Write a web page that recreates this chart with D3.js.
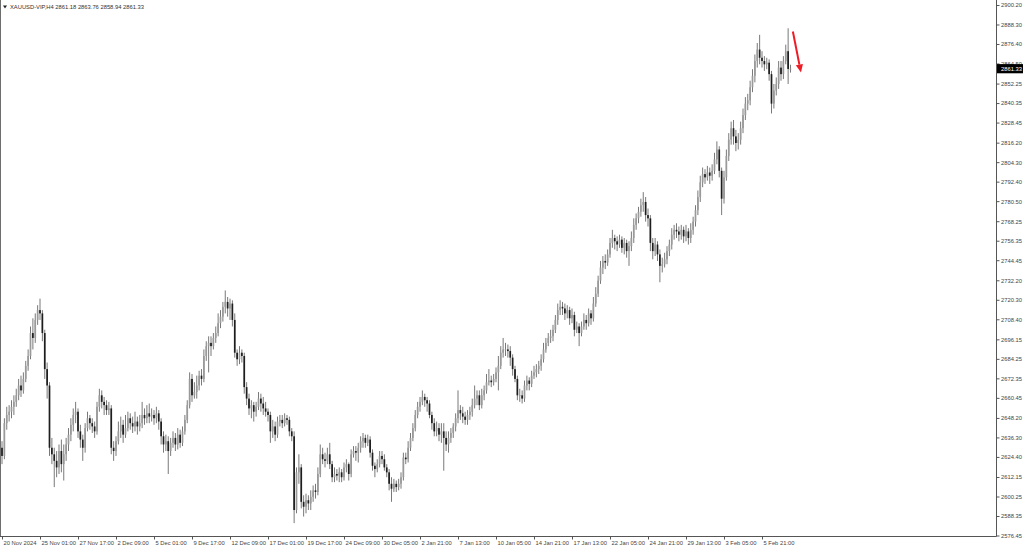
<!DOCTYPE html>
<html>
<head>
<meta charset="utf-8">
<script src="https://cdn.jsdelivr.net/npm/d3@7"></script>
<style>
  html, body { margin: 0; padding: 0; background: #ffffff; }
  svg { display: block; font-family: "Liberation Sans", Arial, sans-serif; }
</style>
</head>
<body>
<svg id="chart" width="1024" height="550"></svg>
<script>
// ---- DATA (XAUUSD-VIP, H4 bars, 20 Nov 2024 09:00 .. 7 Feb 2025 21:00) ----
const symbolTitle = "XAUUSD-VIP,H4";
const lastBarOHLC = ["2861.18", "2863.76", "2858.94", "2861.33"];

const opens = [
  2630,2625,2645,2650,
  2652,2655,2658,2662,2668,2665,
  2672,2680,2686,2700,2697,2708,
  2714,2712,2700,2678,2668,2630,
  2626,2622,2618,2628,2620,2626,
  2632,2638,2644,2650,2652,2640,
  2635,2630,2642,2648,2645,2643,
  2640,2655,2662,2658,2656,2653,
  2654,2630,2628,2634,2640,2644,
  2638,2642,2648,2645,2643,2646,
  2643,2645,2650,2648,2651,2649,
  2650,2648,2651,2646,2637,2632,
  2634,2628,2633,2636,2632,2638,
  2633,2640,2647,2656,2672,2662,
  2664,2668,2674,2672,2686,2692,
  2694,2692,2697,2700,2706,2710,
  2716,2719,2715,2718,2708,2688,
  2684,2688,2686,2667,2660,2654,
  2656,2652,2655,2660,2657,2654,
  2652,2650,2640,2643,2638,2646,
  2647,2645,2648,2647,2640,2637,
  2592,2615,2618,2597,2594,2598,
  2596,2600,2604,2603,2614,2626,
  2623,2622,2626,2620,2612,2614,
  2613,2615,2612,2618,2620,
  2614,2626,2628,2627,2630,2634,
  2636,2633,2635,2627,2619,2617,
  2620,2625,2623,2618,2615,2608,
  2605,2608,2606,2608,2612,2624,
  2623,2630,2636,2642,2650,2655,
  2658,2661,2659,2657,2650,2645,
  2640,2642,2638,2640,2636,2632,
  2636,2639,2643,2648,2653,2651,
  2649,2647,2650,2652,2656,2660,
  2662,2656,2662,2665,2670,2671,
  2670,2672,2676,2680,2688,2690,
  2690,2689,2685,2678,2672,2662,
  2662,2660,2668,2671,2669,2674,
  2676,2678,2680,2684,2690,2694,
  2697,2698,2702,2708,2714,2716,
  2715,2712,2714,2709,2711,2702,
  2704,2700,2704,2708,2706,2712,
  2709,2718,2724,2732,2740,2744,
  2743,2748,2755,2758,2756,2754,
  2757,2752,2755,2750,2753,2758,
  2766,2770,2774,2778,2780,2772,
  2770,2755,2750,2754,2748,2741,
  2742,2745,2750,2754,2760,2763,
  2762,2760,2763,2759,2762,2758,
  2763,2768,2775,2783,2792,2797,
  2795,2798,2796,2799,2806,2812,
  2799,2782,2795,2808,2818,2825,
  2820,2816,2818,2825,2833,2840,
  2842,2850,2857,2866,2873,2868,
  2866,2864,2865,2858,2840,2848,
  2852,2862,2858,2866,2872,2861.18
];

const highs = [
  2634,2648,2655,2656,
  2659,2662,2666,2672,2674,2676,
  2683,2690,2704,2709,2712,2717,
  2721,2714,2702,2682,2670,2636,
  2630,2628,2632,2635,2632,2636,
  2642,2648,2654,2658,2654,2644,
  2638,2645,2652,2650,2648,2646,
  2658,2666,2665,2661,2659,2658,
  2656,2634,2637,2646,2649,2647,
  2650,2652,2651,2649,2652,2649,
  2650,2658,2654,2656,2657,2654,
  2653,2655,2653,2648,2640,2638,
  2637,2636,2640,2639,2642,2641,
  2643,2650,2659,2676,2675,2670,
  2674,2677,2678,2690,2695,2698,
  2698,2700,2704,2712,2714,2719,
  2726,2722,2721,2720,2712,2690,
  2692,2690,2688,2670,2663,2659,
  2658,2658,2664,2663,2661,2658,
  2654,2652,2647,2646,2649,2650,
  2650,2651,2650,2649,2642,2640,
  2618,2626,2620,2601,2602,2601,
  2604,2607,2608,2618,2632,2630,
  2627,2630,2633,2622,2618,2617,
  2618,2617,2621,2623,2621,
  2629,2631,2631,2633,2637,2639,
  2638,2638,2637,2629,2621,2623,
  2628,2628,2626,2620,2617,2612,
  2611,2610,2611,2615,2627,2627,
  2634,2639,2645,2653,2658,2661,
  2665,2663,2661,2659,2652,2648,
  2646,2645,2645,2645,2640,2640,
  2642,2645,2651,2665,2656,2655,
  2652,2653,2655,2660,2668,2665,
  2665,2666,2668,2675,2678,2674,
  2675,2679,2686,2692,2697,2694,
  2693,2692,2687,2680,2674,2666,
  2665,2671,2674,2673,2677,2680,
  2681,2683,2687,2694,2697,2700,
  2702,2705,2711,2718,2720,2719,
  2718,2717,2716,2715,2713,2707,
  2706,2707,2712,2711,2715,2714,
  2722,2728,2735,2744,2747,2748,
  2751,2758,2763,2760,2759,2760,
  2759,2758,2757,2756,2762,2770,
  2773,2777,2782,2786,2783,2776,
  2772,2758,2758,2756,2751,2746,
  2749,2753,2757,2764,2766,2767,
  2765,2766,2765,2766,2764,2767,
  2771,2778,2787,2796,2801,2800,
  2802,2801,2803,2810,2817,2814,
  2801,2799,2812,2822,2829,2830,
  2824,2822,2829,2837,2844,2846,
  2854,2861,2870,2877,2882,2872,
  2869,2868,2867,2860,2852,2856,
  2866,2866,2869,2876,2886,2863.76
];

const lows = [
  2620,2623,2641,2646,
  2648,2650,2655,2659,2661,2663,
  2670,2677,2684,2690,2694,2705,
  2708,2695,2672,2660,2625,2620,
  2606,2612,2614,2615,2610,2622,
  2628,2634,2640,2645,2636,2630,
  2622,2627,2640,2641,2639,2636,
  2638,2652,2654,2650,2650,2650,
  2626,2622,2625,2632,2636,2633,
  2636,2640,2641,2639,2640,2638,
  2640,2642,2644,2645,2645,2646,
  2644,2645,2641,2632,2627,2628,
  2614,2625,2630,2628,2629,2630,
  2631,2638,2645,2654,2658,2660,
  2660,2665,2668,2670,2683,2676,
  2686,2690,2694,2698,2703,2707,
  2712,2710,2708,2704,2685,2680,
  2681,2682,2663,2656,2650,2648,
  2646,2649,2653,2652,2650,2649,
  2646,2633,2636,2634,2636,2643,
  2642,2643,2644,2637,2634,2584,
  2590,2608,2593,2588,2590,2592,
  2592,2597,2599,2601,2612,2620,
  2618,2620,2617,2609,2609,2610,
  2609,2609,2610,2615,2610,
  2612,2624,2622,2621,2627,2630,
  2630,2631,2624,2616,2612,2615,
  2618,2620,2616,2612,2604,2597,
  2603,2603,2604,2605,2610,2620,
  2621,2628,2634,2640,2648,2652,
  2656,2655,2652,2648,2641,2637,
  2637,2634,2633,2616,2628,2627,
  2633,2636,2640,2645,2647,2645,
  2644,2644,2647,2649,2654,2656,
  2653,2654,2659,2663,2668,2667,
  2668,2670,2665,2678,2685,2686,
  2685,2680,2674,2670,2659,2658,
  2657,2658,2665,2665,2667,2672,
  2673,2675,2677,2682,2688,2692,
  2694,2695,2700,2705,2711,2711,
  2708,2709,2705,2706,2698,2700,
  2692,2698,2702,2702,2704,2705,
  2707,2716,2722,2730,2736,2739,
  2741,2746,2752,2751,2750,2752,
  2749,2748,2746,2741,2750,2755,
  2763,2767,2771,2774,2768,2765,
  2750,2745,2747,2744,2731,2737,
  2740,2742,2747,2751,2757,2758,
  2756,2757,2755,2756,2754,2755,
  2760,2765,2772,2780,2789,2791,
  2793,2791,2793,2797,2803,2795,
  2772,2779,2793,2805,2815,2815,
  2811,2812,2815,2822,2830,2836,
  2839,2847,2853,2862,2864,2862,
  2860,2861,2854,2834,2837,2845,
  2849,2854,2855,2864,2852,2858.94
];

const closes = [
  2625,2645,2650,2652,
  2655,2658,2662,2668,2665,2672,
  2680,2686,2700,2697,2708,2714,
  2712,2700,2678,2668,2630,2626,
  2622,2618,2628,2620,2626,2632,
  2638,2644,2650,2652,2640,2635,
  2630,2642,2648,2645,2643,2640,
  2655,2662,2658,2656,2653,2654,
  2630,2628,2634,2640,2644,2638,
  2642,2648,2645,2643,2646,2643,
  2645,2650,2648,2651,2649,2650,
  2648,2651,2646,2637,2632,2634,
  2628,2633,2636,2632,2638,2633,
  2640,2647,2656,2672,2662,2664,
  2668,2674,2672,2686,2692,2694,
  2692,2697,2700,2706,2710,2716,
  2719,2715,2718,2708,2688,2684,
  2688,2686,2667,2660,2654,2656,
  2652,2655,2660,2657,2654,2652,
  2650,2640,2643,2638,2646,2647,
  2645,2648,2647,2640,2637,2592,
  2615,2618,2597,2594,2598,2596,
  2600,2604,2603,2614,2626,2623,
  2622,2626,2620,2612,2614,2613,
  2615,2612,2618,2620,2614,
  2626,2628,2627,2630,2634,2636,
  2633,2635,2627,2619,2617,2620,
  2625,2623,2618,2615,2608,2605,
  2608,2606,2608,2612,2624,2623,
  2630,2636,2642,2650,2655,2658,
  2661,2659,2657,2650,2645,2640,
  2642,2638,2640,2636,2632,2636,
  2639,2643,2648,2653,2651,2649,
  2647,2650,2652,2656,2660,2662,
  2656,2662,2665,2670,2671,2670,
  2672,2676,2680,2688,2690,2690,
  2689,2685,2678,2672,2662,2662,
  2660,2668,2671,2669,2674,2676,
  2678,2680,2684,2690,2694,2697,
  2698,2702,2708,2714,2716,2715,
  2712,2714,2709,2711,2702,2704,
  2700,2704,2708,2706,2712,2709,
  2718,2724,2732,2740,2744,2743,
  2748,2755,2758,2756,2754,2757,
  2752,2755,2750,2753,2758,2766,
  2770,2774,2778,2780,2772,2770,
  2755,2750,2754,2748,2741,2742,
  2745,2750,2754,2760,2763,2762,
  2760,2763,2759,2762,2758,2763,
  2768,2775,2783,2792,2797,2795,
  2798,2796,2799,2806,2812,2799,
  2782,2795,2808,2818,2825,2820,
  2816,2818,2825,2833,2840,2842,
  2850,2857,2866,2873,2868,2866,
  2864,2865,2858,2840,2848,2852,
  2862,2858,2866,2872,2861.18,2861.33
];

// Price axis labels (right side)
const priceTicks = [2900.20,2888.30,2876.40,2864.50,2852.25,2840.35,2828.45,2816.20,2804.30,
  2792.40,2780.50,2768.25,2756.35,2744.45,2732.20,2720.30,2708.40,2696.15,2684.25,2672.35,
  2660.45,2648.20,2636.30,2624.40,2612.15,2600.25,2588.35,2576.45];

// Time axis labels: bar index and text
const timeTickIndex = [0,16,32,48,64,80,96,112,128,144,160,176,192,208,224,240,256,272,288,304,320];
const timeTickLabels = ["20 Nov 2024","25 Nov 01:00","27 Nov 17:00","2 Dec 09:00","5 Dec 01:00",
  "9 Dec 17:00","12 Dec 09:00","17 Dec 01:00","19 Dec 17:00","24 Dec 09:00","30 Dec 05:00",
  "2 Jan 21:00","7 Jan 13:00","10 Jan 05:00","14 Jan 21:00","17 Jan 13:00","22 Jan 05:00",
  "24 Jan 21:00","29 Jan 13:00","3 Feb 05:00","5 Feb 21:00"];

// Annotation arrow: [bar index, price]
const arrowFrom = [333, 2884];
const arrowTo = [336.4, 2859];

// ---- DRAWING ----
const svg = d3.select("#chart");
const plotRight = 996.5, plotBottom = 536.5;

const x = d3.scaleLinear().domain([0, 332]).range([2, 790.5]);
const y = d3.scaleLinear().domain([2576.45, 2900.20]).range([535.5, 5]);

const bars = d3.range(closes.length).map(i => ({
  i, o: opens[i], h: highs[i], l: lows[i], c: closes[i]
}));

// frame
svg.append("line").attr("x1", 0.5).attr("x2", 0.5).attr("y1", 0).attr("y2", plotBottom)
  .attr("stroke", "#6e6e6e").attr("stroke-width", 1);
svg.append("line").attr("x1", plotRight).attr("x2", plotRight).attr("y1", 0).attr("y2", plotBottom)
  .attr("stroke", "#555").attr("stroke-width", 1);
svg.append("line").attr("x1", 0).attr("x2", plotRight).attr("y1", plotBottom).attr("y2", plotBottom)
  .attr("stroke", "#555").attr("stroke-width", 1);

// candles
const g = svg.append("g").attr("class", "candles");
g.selectAll("line.wick").data(bars).join("line")
  .attr("class", "wick")
  .attr("x1", d => x(d.i)).attr("x2", d => x(d.i))
  .attr("y1", d => y(d.h)).attr("y2", d => y(d.l))
  .attr("stroke", "#6a6a6a").attr("stroke-width", 0.9);
g.selectAll("rect.body").data(bars).join("rect")
  .attr("class", "body")
  .attr("x", d => x(d.i) - 0.85)
  .attr("width", 1.7)
  .attr("y", d => y(Math.max(d.o, d.c)))
  .attr("height", d => Math.max(0.8, Math.abs(y(d.o) - y(d.c))))
  .attr("fill", d => d.c >= d.o ? "#9a9a9a" : "#1e1e1e");

// right price axis
const yAxis = d3.axisRight(y).tickValues(priceTicks).tickFormat(d3.format(".2f"))
  .tickSize(3).tickSizeOuter(0);
const ya = svg.append("g").attr("transform", `translate(${plotRight},0)`).call(yAxis);
ya.select(".domain").remove();
ya.selectAll(".tick line").attr("stroke", "#555");
ya.selectAll(".tick text").attr("x", 4.5).attr("fill", "#444")
  .style("font-size", "5.8px").style("font-family", "'Liberation Sans', Arial, sans-serif");

// bottom time axis
const xAxis = d3.axisBottom(x).tickValues(timeTickIndex)
  .tickFormat((d, k) => timeTickLabels[k]).tickSize(3).tickSizeOuter(0);
const xa = svg.append("g").attr("transform", `translate(0,${plotBottom})`).call(xAxis);
xa.select(".domain").remove();
xa.selectAll(".tick line").attr("stroke", "#555");
xa.selectAll(".tick text").attr("text-anchor", "start").attr("x", 1).attr("y", 4).attr("fill", "#444")
  .style("font-size", "5.8px").style("font-family", "'Liberation Sans', Arial, sans-serif");

// current price label
const lastClose = closes[closes.length - 1];
const lp = svg.append("g").attr("transform", `translate(${plotRight},${y(lastClose)})`);
lp.append("rect").attr("x", 0.5).attr("y", -4.6).attr("width", 26).attr("height", 9.2).attr("fill", "#000");
lp.append("text").attr("x", 4.5).attr("y", 0).attr("dy", "0.35em").attr("fill", "#fff")
  .style("font-size", "5.8px").text(d3.format(".2f")(lastClose));

// header
svg.append("path").attr("d", "M3,5.5 L7,5.5 L5,8.5 Z").attr("fill", "#222");
svg.append("text").attr("x", 10).attr("y", 9).attr("fill", "#333").style("font-size", "5.8px")
  .text(symbolTitle + "  " + lastBarOHLC.join(" "));

// red arrow annotation
const ax0 = x(arrowFrom[0]), ay0 = y(arrowFrom[1]);
const ax1 = x(arrowTo[0]), ay1 = y(arrowTo[1]);
const ang = Math.atan2(ay1 - ay0, ax1 - ax0);
const headLen = 8, headW = 3.6;
const bx = ax1 - headLen * Math.cos(ang), by = ay1 - headLen * Math.sin(ang);
svg.append("line").attr("x1", ax0).attr("y1", ay0).attr("x2", bx).attr("y2", by)
  .attr("stroke", "#ee1c24").attr("stroke-width", 2);
svg.append("path")
  .attr("d", `M${ax1},${ay1} L${bx + headW * Math.sin(ang)},${by - headW * Math.cos(ang)} L${bx - headW * Math.sin(ang)},${by + headW * Math.cos(ang)} Z`)
  .attr("fill", "#ee1c24");
</script>
</body>
</html>
